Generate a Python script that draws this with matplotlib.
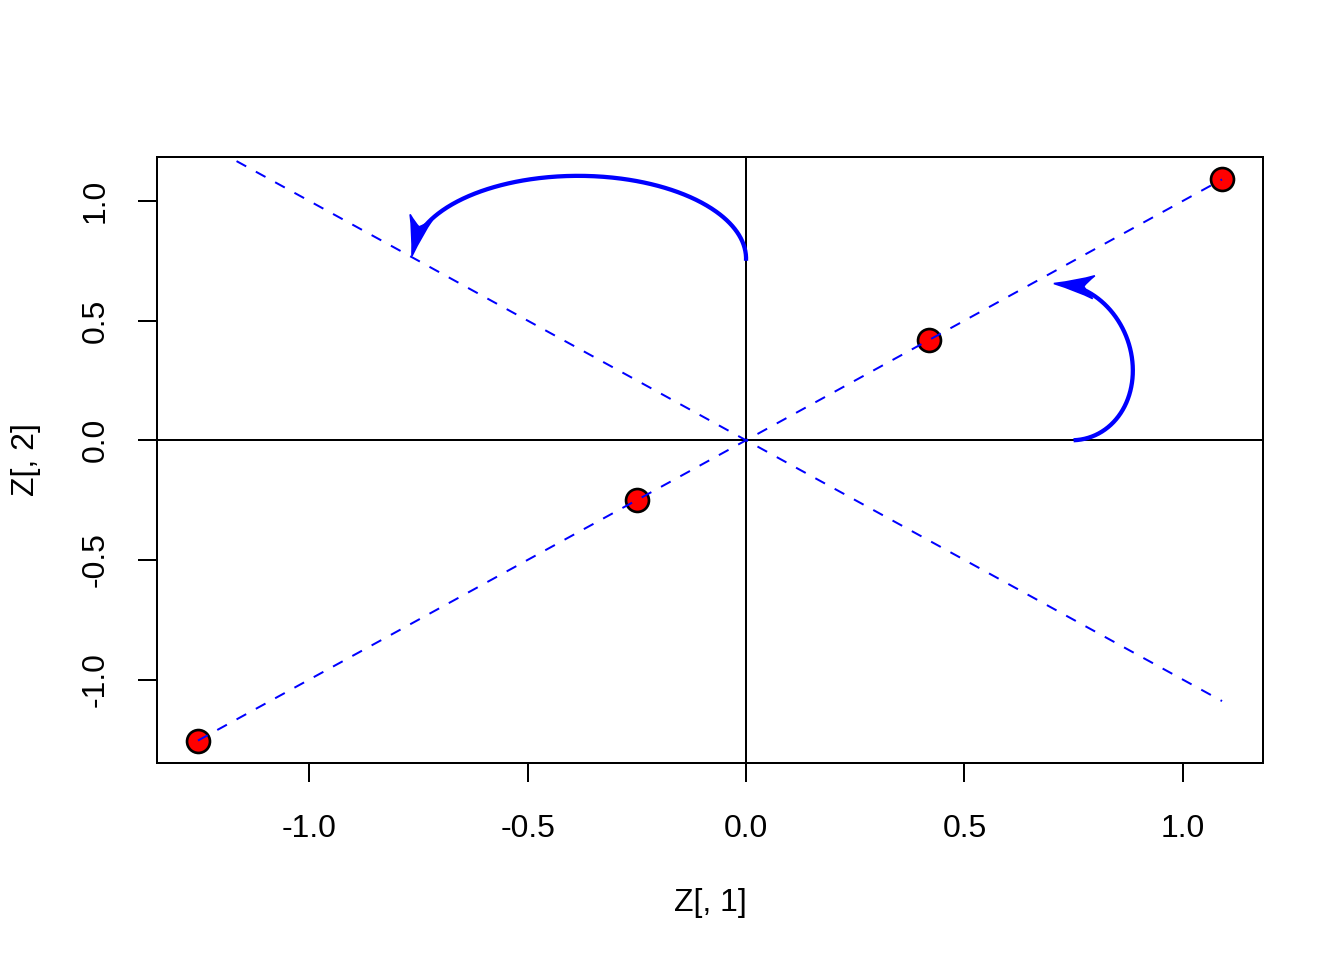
import numpy as np
import matplotlib
matplotlib.use("Agg")
import matplotlib.pyplot as plt
from matplotlib.patches import PathPatch
from matplotlib.path import Path

plt.rcParams['font.family'] = ['Liberation Sans', 'DejaVu Sans']

# data
z1 = [-1.255, -0.25, 0.42, 1.09]
z2 = [-1.255, -0.25, 0.42, 1.09]
line_a_x = [-1.255, 1.09]
line_a_y = [-1.255, 1.09]
line_b_x = [-1.255, 1.09]
line_b_y = [1.255, -1.09]
arrow1_start = (0.75, 0.0)
arrow1_end = (0.705, 0.655)
arrow1_bulge = 0.157
arrow2_start = (0.0, 0.75)
arrow2_end = (-0.765, 0.77)
arrow2_bulge = 0.345
xticks = [-1.0, -0.5, 0.0, 0.5, 1.0]
yticks = [-1.0, -0.5, 0.0, 0.5, 1.0]
xlabel = "Z[, 1]"
ylabel = "Z[, 2]"

W, H = 1344, 960
fig = plt.figure(figsize=(7, 5), dpi=192)
ax = fig.add_axes([157 / W, (H - 763) / H, (1263 - 157) / W, (763 - 157) / H])

xr = max(z1) - min(z1)
yr = max(z2) - min(z2)
ax.set_xlim(min(z1) - 0.04 * xr, max(z1) + 0.04 * xr)
ax.set_ylim(min(z2) - 0.04 * yr, max(z2) + 0.04 * yr)

ax.axhline(0, color='black', lw=0.75, zorder=1)
ax.axvline(0, color='black', lw=0.75, zorder=1)

ax.plot(z1, z2, 'o', mfc='red', mec='black', ms=8.6, mew=1.0, zorder=2)
ax.plot(line_a_x, line_a_y, color='blue', lw=0.75, dashes=(5.5, 5.5), zorder=3)
ax.plot(line_b_x, line_b_y, color='blue', lw=0.75, dashes=(5.5, 5.5), zorder=3)


def half_ellipse(start, end, bulge, n=400):
    S = np.array(start, float)
    E = np.array(end, float)
    M = (S + E) / 2
    u = S - M
    perp = np.array([-u[1], u[0]]) / np.hypot(*u)
    v = bulge * perp
    t = np.linspace(0, np.pi, n)
    return M[None, :] + np.cos(t)[:, None] * u[None, :] + np.sin(t)[:, None] * v[None, :]


def curved_arrow(ax, start, end, bulge, L=40.0, Wd=11.5, color='blue', lw=1.6):
    pts = half_ellipse(start, end, bulge)
    disp = ax.transData.transform(pts)
    tip = disp[-1]
    seg = np.hypot(*np.diff(disp, axis=0).T)
    dist = np.concatenate([np.cumsum(seg[::-1])[::-1], [0.0]])  # distance to tip
    idx = int(np.argmin(np.abs(dist - 0.4 * L)))
    d = tip - disp[idx]
    d /= np.hypot(*d)
    nrm = np.array([-d[1], d[0]])

    def P(a, b):
        return tip - a * d + b * nrm

    keep = dist >= 0.65 * L
    ax.plot(pts[keep, 0], pts[keep, 1], color=color, lw=lw,
            solid_capstyle='butt', zorder=4)
    verts = [P(0, 0),
             P(0.6 * L, 0.45 * Wd), P(L, Wd),
             P(0.82 * L, 0.4 * Wd), P(0.75 * L, 0),
             P(0.82 * L, -0.4 * Wd), P(L, -Wd),
             P(0.6 * L, -0.45 * Wd), P(0, 0),
             P(0, 0)]
    codes = [Path.MOVETO,
             Path.CURVE3, Path.CURVE3,
             Path.CURVE3, Path.CURVE3,
             Path.CURVE3, Path.CURVE3,
             Path.CURVE3, Path.CURVE3,
             Path.CLOSEPOLY]
    vdata = ax.transData.inverted().transform(np.array(verts))
    ax.add_patch(PathPatch(Path(vdata, codes), facecolor=color, edgecolor=color,
                           lw=0.6, zorder=5))


curved_arrow(ax, arrow1_start, arrow1_end, arrow1_bulge)
curved_arrow(ax, arrow2_start, arrow2_end, arrow2_bulge)

ax.set_xticks(xticks)
ax.set_yticks(yticks)
ax.set_xticklabels([f"{v:.1f}" for v in xticks])
ax.set_yticklabels([f"{v:.1f}" for v in yticks])
for sp in ax.spines.values():
    sp.set_linewidth(0.75)
ax.tick_params(axis='both', direction='out', length=7.2, width=0.75, labelsize=12)
ax.tick_params(axis='x', pad=12.0)
ax.tick_params(axis='y', pad=10.2, labelrotation=90)
for lab in ax.get_yticklabels():
    lab.set_va('center')

fig.text(710 / W, 1 - 903 / H, xlabel, ha='center', va='center', fontsize=12)
fig.text(26 / W, 1 - 460 / H, ylabel, ha='center', va='center', rotation=90, fontsize=12)

fig.savefig("out.png", dpi=192)
